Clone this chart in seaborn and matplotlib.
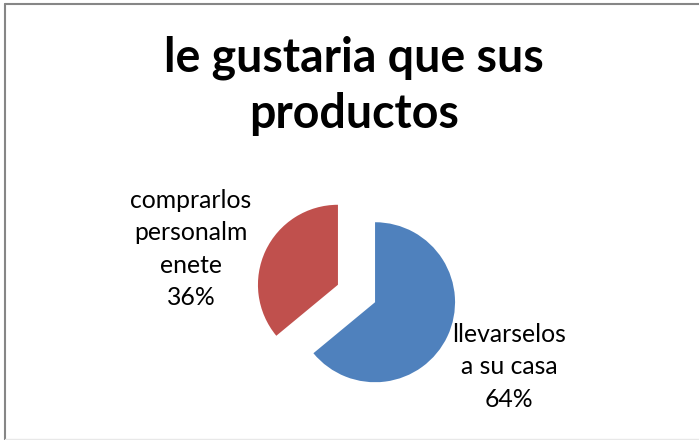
import matplotlib
matplotlib.use("Agg")
import matplotlib.pyplot as plt
import seaborn as sns
from matplotlib.lines import Line2D

sns.set_theme(style="white")
plt.rcParams['font.family'] = ['Lato', 'DejaVu Sans']

title = "le gustaria que sus\nproductos"
categories = ["llevarselos\na su casa", "comprarlos\npersonalm\nenete"]
values = [64, 36]
colors = ["#4F81BD", "#C0504D"]

W, H = 699, 440
fig = plt.figure(figsize=(W / 100, H / 100), dpi=100)
ax = fig.add_axes([0, 0, 1, 1])

wedges, _ = ax.pie(values, colors=colors, startangle=90, counterclock=False,
                   center=(356.5, H - 293.5), radius=80, explode=[20.5, 20.5],
                   wedgeprops=dict(linewidth=0))
ax.set_xlim(0, W)
ax.set_ylim(0, H)
ax.set_aspect('equal')
ax.axis('off')

total = sum(values)
label_pos = [(509, H - 367), (191, H - 249)]
for cat, v, (lx, ly) in zip(categories, values, label_pos):
    ax.text(lx, ly, f"{cat}\n{round(100 * v / total)}%", ha='center', va='center',
            fontsize=17.8, color='black', linespacing=1.5)

ax.text(354, H - 86, title, ha='center', va='center', fontsize=33.5,
        fontweight='bold', color='black', linespacing=1.33)

# chart border
fig.add_artist(Line2D([5 / W, 5 / W], [0, 1 - 4 / H], transform=fig.transFigure,
                      color='#868686', linewidth=1.5))
fig.add_artist(Line2D([5 / W, 1], [1 - 4 / H, 1 - 4 / H], transform=fig.transFigure,
                      color='#868686', linewidth=1.5))
fig.add_artist(Line2D([5 / W, 1], [1.5 / H, 1.5 / H], transform=fig.transFigure,
                      color='#e8e8e8', linewidth=1))

fig.savefig("out.png", dpi=100, facecolor='white')
